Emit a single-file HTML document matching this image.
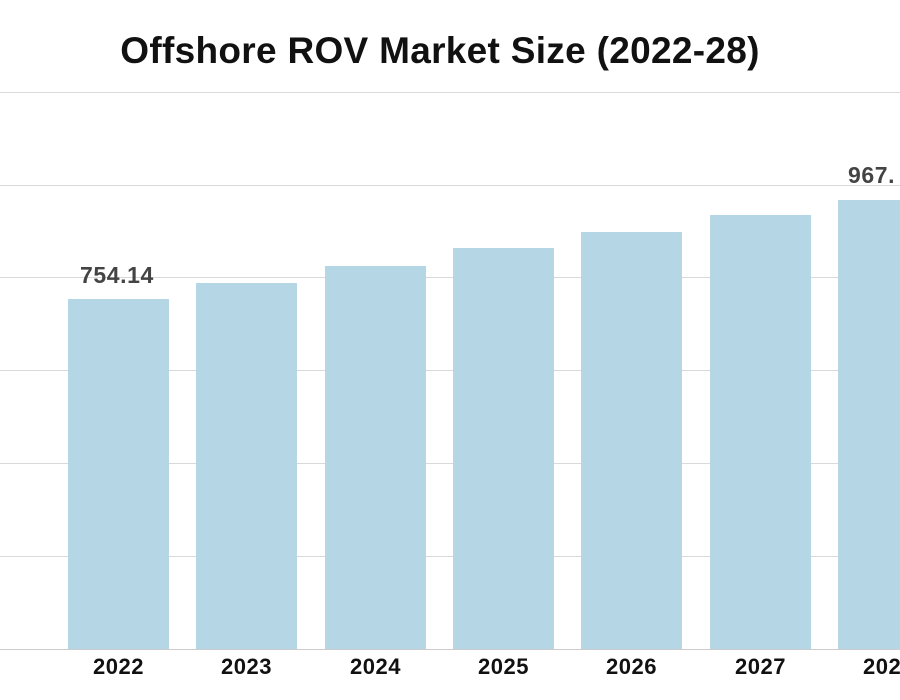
<!DOCTYPE html>
<html><head><style>
body{margin:0;width:900px;height:700px;background:#fff;overflow:hidden;position:relative;font-family:"Liberation Sans",sans-serif}
.g{position:absolute;left:0;width:900px;height:1px;background:#d9d9d9}
.b{position:absolute;width:101px;background:#b5d7e5}
.y{position:absolute;top:654px;width:101px;text-align:center;font-weight:bold;font-size:22px;letter-spacing:0.5px;color:#111;white-space:nowrap}
.v{position:absolute;font-weight:bold;font-size:23px;letter-spacing:0.6px;color:#444}
</style></head><body>
<div style="position:absolute;top:30px;left:0;width:880px;text-align:center;font-weight:bold;font-size:37px;color:#111;letter-spacing:0.3px;white-space:nowrap">Offshore ROV Market Size (2022-28)</div>
<div class="g" style="top:92px"></div>
<div class="g" style="top:185px"></div>
<div class="g" style="top:277px"></div>
<div class="g" style="top:370px"></div>
<div class="g" style="top:463px"></div>
<div class="g" style="top:556px"></div>
<div class="b" style="left:68px;top:299px;height:351px"></div>
<div class="b" style="left:196px;top:283px;height:367px"></div>
<div class="b" style="left:325px;top:266px;height:384px"></div>
<div class="b" style="left:453px;top:248px;height:402px"></div>
<div class="b" style="left:581px;top:232px;height:418px"></div>
<div class="b" style="left:710px;top:215px;height:435px"></div>
<div class="b" style="left:838px;top:200px;height:450px"></div>
<div class="g" style="top:649px;background:#ccc"></div>
<div class="v" style="left:80px;top:262px">754.14</div>
<div class="v" style="left:848px;top:162px">967.</div>
<div class="y" style="left:68px">2022</div>
<div class="y" style="left:196px">2023</div>
<div class="y" style="left:325px">2024</div>
<div class="y" style="left:453px">2025</div>
<div class="y" style="left:581px">2026</div>
<div class="y" style="left:710px">2027</div>
<div class="y" style="left:838px">2028</div>
</body></html>
